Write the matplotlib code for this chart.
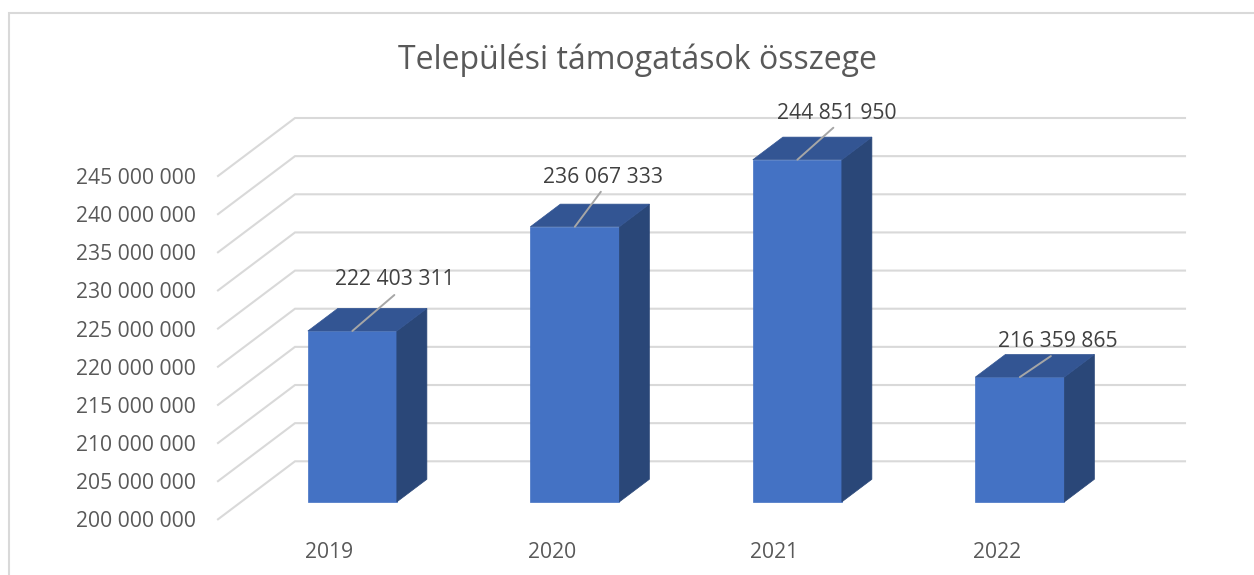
import matplotlib
matplotlib.use("Agg")
import matplotlib.pyplot as plt
from matplotlib.patches import Polygon

# adatok
title = "Települési támogatások összege"
years = ["2019", "2020", "2021", "2022"]
amounts = [222403311, 236067333, 244851950, 216359865]
axis_ticks = [200000000, 205000000, 210000000, 215000000, 220000000,
              225000000, 230000000, 235000000, 240000000, 245000000]

W, H = 1254, 575

plt.rcParams["font.family"] = ["Open Sans", "DejaVu Sans"]

fig = plt.figure(figsize=(W / 100, H / 100), dpi=100)
# the axes is the front plane of the fake 3d box
left, right, bottom, top = 218, 1108, 519.3, 176
ax = fig.add_axes([left / W, 1 - bottom / H, (right - left) / W, (bottom - top) / H])
ax.set_xlim(-0.5, len(years) - 0.5)
ax.set_ylim(axis_ticks[0], axis_ticks[-1])

px_x = (len(years)) / (right - left)
px_y = (axis_ticks[-1] - axis_ticks[0]) / (bottom - top)
depth_x = 77 * px_x
depth_y = 58 * px_y


def proj(x, y, d):
    return (x + d * depth_x, y + d * depth_y)


def fmt(v):
    return f"{v:,}".replace(",", " ")


# gridlines: front edge, back corner, along the back wall
for t in axis_ticks:
    p0 = proj(-0.5, t, 0)
    p1 = proj(-0.5, t, 1)
    p2 = proj(len(years) - 0.5, t, 1)
    ax.plot([p0[0], p1[0], p2[0]], [p0[1], p1[1], p2[1]], color="#d9d9d9",
            lw=1.5, clip_on=False, zorder=1, solid_joinstyle="miter")

half = 44.5 * px_x
d0, d1 = 0.30, 0.69
offsets = [(42, 36), (26, 35), (36, 32), (31, 21)]
label_off = [(42, 54), (28, 52), (39, 49), (38, 38)]

for i, v in enumerate(amounts):
    base = axis_ticks[0]
    fl = proj(i - half, base, d0)
    fr = proj(i + half, base, d0)
    tl = proj(i - half, v, d0)
    tr = proj(i + half, v, d0)
    bl_back = proj(i - half, v, d1)
    br_back = proj(i + half, v, d1)
    br_base = proj(i + half, base, d1)
    ax.add_patch(Polygon([fl, fr, tr, tl], closed=True, fc="#4472c4", ec="#4472c4",
                         lw=0.5, clip_on=False, zorder=3))
    ax.add_patch(Polygon([fr, br_base, br_back, tr], closed=True, fc="#2a4778", ec="#2a4778",
                         lw=0.5, clip_on=False, zorder=3))
    ax.add_patch(Polygon([tl, tr, br_back, bl_back], closed=True, fc="#335593", ec="#335593",
                         lw=0.5, clip_on=False, zorder=3))
    # leader line and value label
    anchor = proj(i, v, d0)
    ax.annotate("", xy=anchor, xytext=(offsets[i][0] * 0.72, offsets[i][1] * 0.72),
                textcoords="offset points", annotation_clip=False, zorder=4,
                arrowprops=dict(arrowstyle="-", color="#a6a6a6", lw=1.4,
                                shrinkA=0, shrinkB=0))
    ax.annotate(fmt(v), xy=anchor, xytext=(label_off[i][0] * 0.72, label_off[i][1] * 0.72),
                textcoords="offset points", ha="center", va="center_baseline", fontsize=15.2,
                color="#404040", annotation_clip=False, zorder=5)

ax.set_xticks(range(len(years)))
ax.set_xticklabels(years)
ax.set_yticks(axis_ticks)
ax.set_yticklabels([fmt(t) for t in axis_ticks], va="center_baseline")
ax.tick_params(axis="y", length=0, pad=16, labelsize=15.2, labelcolor="#595959")
ax.tick_params(axis="x", length=0, pad=16, labelsize=15.2, labelcolor="#595959")
for s in ax.spines.values():
    s.set_visible(False)
ax.patch.set_alpha(0)

# chart frame, open on the right and cut off at the bottom
fig.add_artist(plt.Line2D([9 / W, 9 / W, 1], [0, 1 - 13 / H, 1 - 13 / H], transform=fig.transFigure,
                          color="#d9d9d9", lw=1.5, solid_joinstyle="miter"))
fig.text(637 / W, 1 - 56 / H, title, ha="center", va="center_baseline", fontsize=23, color="#595959")

plt.savefig("out.png", dpi=100)
